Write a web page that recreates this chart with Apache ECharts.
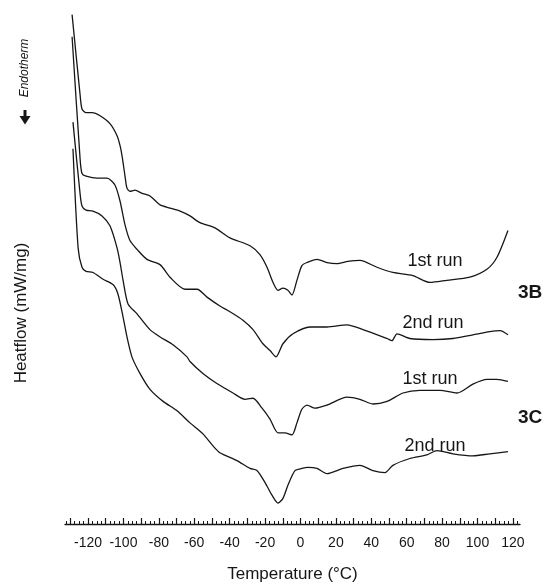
<!DOCTYPE html>
<html>
<head>
<meta charset="utf-8">
<script src="https://cdn.jsdelivr.net/npm/echarts@6/dist/echarts.min.js"></script>
<style>html,body{margin:0;padding:0;background:#fff}#c{width:548px;height:588px}</style>
</head>
<body>
<div id="c"></div>
<script>
// Temperature (°C) and relative heat flow (arbitrary units, curves offset)
const run3B1_T = [-129.0,-124.5,-123.4,-121.1,-117.7,-113.2,-107.6,-103.6,-101.9,-100.8,-99.1,-98.0,-96.3,-93.5,-89.5,-85.0,-79.3,-73.7,-68.0,-62.4,-56.8,-48.3,-39.8,-28.5,-22.9,-18.9,-15.5,-12.7,-9.9,-7.1,-4.8,-2.0,0.8,3.7,9.3,15.0,20.6,26.8,33.6,43.2,52.2,63.5,73.1,82.7,95.7,105.3,111.0,117.2];
const run3B1_H = [97.2,82.0,79.2,78.5,78.5,77.9,76.4,74.1,72.2,70.3,66.4,64.1,63.5,63.7,63.1,62.6,60.9,60.3,59.7,58.8,57.5,56.5,54.6,53.1,51.4,49.0,46.1,44.6,45.0,44.6,43.7,46.5,49.3,49.9,50.5,49.9,49.7,50.1,50.3,49.0,48.0,47.4,46.1,46.5,47.1,48.6,50.9,56.0];

const run3B2_T = [-129.0,-124.5,-123.4,-121.1,-114.9,-109.3,-104.8,-101.9,-99.1,-96.3,-92.3,-86.7,-79.3,-73.7,-65.2,-58.4,-52.8,-45.5,-39.8,-32.5,-26.8,-21.2,-17.2,-13.8,-9.9,-4.2,5.4,15.0,26.3,35.3,48.9,51.7,54.5,61.8,74.8,86.1,97.4,107.0,112.7,117.2];
const run3B2_H = [93.0,69.8,66.9,66.4,66.0,66.0,64.7,61.6,57.1,54.1,52.4,50.5,49.5,47.1,44.8,44.8,43.3,41.6,40.5,38.9,37.1,34.4,33.1,31.9,34.4,36.3,37.6,37.6,38.0,37.1,35.4,35.0,36.3,35.4,35.2,35.4,36.1,36.7,36.9,36.1];

const run3C1_T = [-128.5,-124.5,-123.4,-121.1,-117.2,-112.1,-107.6,-103.6,-101.9,-100.2,-97.4,-92.3,-85.0,-79.3,-72.0,-64.1,-62.4,-55.1,-47.2,-38.1,-31.3,-26.8,-21.7,-17.2,-12.7,-8.8,-4.8,-2.0,0.8,3.7,8.2,15.0,26.3,33.6,40.9,48.9,57.9,67.5,78.8,88.4,97.4,105.3,111.0,117.2];
const run3C1_H = [76.7,63.1,60.7,59.9,59.7,58.8,56.9,52.7,49.9,46.5,42.0,40.1,37.1,35.7,34.2,31.9,31.0,28.7,26.8,25.0,23.8,24.0,22.1,20.0,17.4,17.4,17.0,19.3,21.9,22.7,22.1,22.7,24.2,23.8,22.9,23.4,25.0,25.5,25.5,25.0,26.7,27.6,27.6,27.2];

const run3C2_T = [-128.5,-125.6,-123.4,-121.1,-117.2,-111.5,-105.9,-103.1,-100.2,-98.0,-95.2,-90.6,-85.0,-77.6,-69.7,-62.4,-55.1,-49.4,-45.5,-35.9,-28.5,-24.6,-20.0,-16.1,-12.7,-9.9,-7.1,-3.1,0.8,4.2,9.3,15.0,24.0,33.6,40.9,47.7,52.2,61.8,71.4,77.1,86.1,97.4,107.0,117.2];
const run3C2_H = [71.6,52.7,49.0,48.2,48.0,46.7,45.7,43.9,39.5,35.7,31.9,28.7,25.7,23.4,21.6,19.3,17.2,14.9,13.6,12.1,10.6,10.2,7.9,5.5,4.0,4.9,7.4,10.2,10.6,10.8,10.6,9.6,10.6,11.2,10.2,9.8,11.2,12.5,13.2,14.0,13.4,13.0,13.4,13.8];

const xTickLabels = [-120,-100,-80,-60,-40,-20,0,20,40,60,80,100,120];
const xMajorTicks = [-130,-120,-110,-100,-90,-80,-70,-60,-50,-40,-30,-20,-10,0,10,20,30,40,50,60,70,80,90,100,110,120];
const xMinorTicks = [];
for (let t = -132.5; t <= 122.5; t += 2.5) xMinorTicks.push(t);

const runLabels = ['1st run','2nd run','1st run','2nd run'];
const sampleLabels = ['3B','3C'];

const zip = (a, b) => a.map((v, i) => [v, b[i]]);
const FONT = '"Liberation Sans", Arial, sans-serif';
const INK = '#161616';

const chart = echarts.init(document.getElementById('c'), null, {renderer: 'canvas'});

const mkLine = (name, T, H) => ({
  name, type: 'line', data: zip(T, H), showSymbol: false, smooth: 0.25,
  lineStyle: {color: INK, width: 1.3}, xAxisIndex: 0, yAxisIndex: 0,
  animation: false
});

const runLabelPos = [[435, 261], [433, 323], [430, 379], [435, 446]];
const sampleLabelPos = [[518, 293], [518, 418]];

chart.setOption({
  animation: false,
  backgroundColor: '#fff',
  grid: {left: 65, right: 28, top: 0, bottom: 59},
  xAxis: [{
    type: 'value', min: -133, max: 124,
    axisLine: {show: true, lineStyle: {color: INK, width: 1.3}},
    axisTick: {show: true, inside: true, length: 6, customValues: xMajorTicks, lineStyle: {color: INK, width: 1.2}},
    axisLabel: {show: true, customValues: xTickLabels, margin: 12, fontSize: 14, color: INK, fontFamily: FONT},
    splitLine: {show: false},
    name: 'Temperature (°C)', nameLocation: 'middle', nameGap: 42,
    nameTextStyle: {fontSize: 17, color: INK, fontFamily: FONT}
  }, {
    type: 'value', min: -133, max: 124, position: 'bottom',
    axisLine: {show: false},
    axisTick: {show: true, inside: true, length: 3, customValues: xMinorTicks, lineStyle: {color: INK, width: 1}},
    axisLabel: {show: false},
    splitLine: {show: false}
  }],
  yAxis: {type: 'value', min: 0, max: 100, show: false},
  series: [
    mkLine('3B 1st run', run3B1_T, run3B1_H),
    mkLine('3B 2nd run', run3B2_T, run3B2_H),
    mkLine('3C 1st run', run3C1_T, run3C1_H),
    mkLine('3C 2nd run', run3C2_T, run3C2_H)
  ],
  graphic: [
    ...runLabels.map((txt, i) => ({
      type: 'text', x: runLabelPos[i][0], y: runLabelPos[i][1],
      style: {text: txt, fill: INK, font: '18px ' + FONT, align: 'center', verticalAlign: 'middle'}
    })),
    ...sampleLabels.map((txt, i) => ({
      type: 'text', x: sampleLabelPos[i][0], y: sampleLabelPos[i][1],
      style: {text: txt, fill: INK, font: 'bold 19px ' + FONT, align: 'left', verticalAlign: 'middle'}
    })),
    {type: 'text', x: 21, y: 313, rotation: Math.PI / 2,
      style: {text: 'Heatflow (mW/mg)', fill: INK, font: '17px ' + FONT, align: 'center', verticalAlign: 'middle'}},
    {type: 'text', x: 25, y: 68, rotation: Math.PI / 2,
      style: {text: 'Endotherm', fill: INK, font: 'italic 12px ' + FONT, align: 'center', verticalAlign: 'middle'}},
    // bold downward arrow (Endotherm direction)
    {type: 'line', shape: {x1: 25, y1: 110, x2: 25, y2: 120}, style: {stroke: INK, lineWidth: 3}},
    {type: 'polygon', shape: {points: [[19.5, 116], [30.5, 116], [25, 124.5]]}, style: {fill: INK}}
  ]
});
</script>
</body>
</html>
